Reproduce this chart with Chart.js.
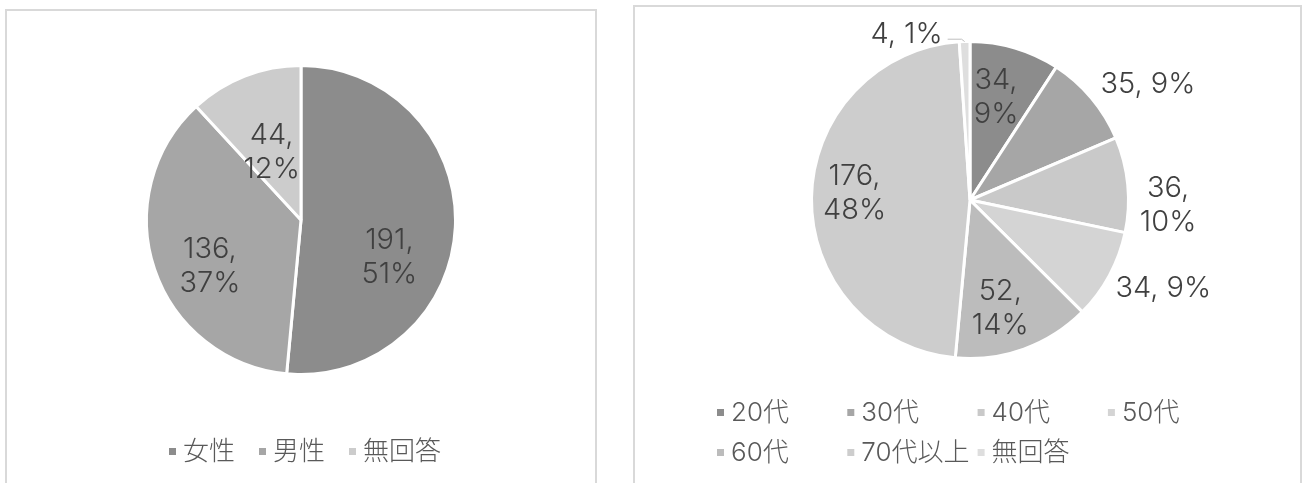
<!DOCTYPE html>
<html>
<head>
<meta charset="utf-8">
<script src="https://cdn.jsdelivr.net/npm/chart.js@4"></script>
<style>
  html, body { margin: 0; padding: 0; background: #fff; overflow: hidden; }
  body { width: 1306px; height: 483px; position: relative; }
  .panel { position: absolute; border: 2px solid #d9d9d9; box-sizing: border-box; height: 560px; }
  #panelL { left: 5px; top: 9px; width: 592px; }
  #panelR { left: 633px; top: 5px; width: 669px; }
  .holder { position: absolute; top: 0; }
  #holdL { left: 0; }
  #holdR { left: 620px; }
</style>
</head>
<body>
<div class="panel" id="panelL"></div>
<div class="panel" id="panelR"></div>
<div class="holder" id="holdL"><canvas id="genderChart" width="620" height="483"></canvas></div>
<div class="holder" id="holdR"><canvas id="ageChart" width="686" height="483"></canvas></div>
<script>
// gender pie
const genderLabels = ['女性', '男性', '無回答'];
const genderValues = [191, 136, 44];
const genderPct = [51, 37, 12];
const genderColors = ['#8c8c8c', '#a6a6a6', '#cccccc'];

// age pie
const ageLabels = ['20代', '30代', '40代', '50代', '60代', '70代以上', '無回答'];
const ageValues = [34, 35, 36, 34, 52, 176, 4];
const agePct = [9, 9, 10, 9, 14, 48, 1];
const ageColors = ['#8c8c8c', '#a6a6a6', '#c9c9c9', '#d4d4d4', '#bcbcbc', '#cdcdcd', '#dedede'];

const LABEL_FONT = '300 29px Inter, "Noto Sans CJK JP", sans-serif';
const LEGEND_FONT = '300 26px Inter, "Noto Sans CJK JP", sans-serif';

// value, percent labels drawn on (or next to) each slice
const sliceLabels = {
    id: 'sliceLabels',
    afterDatasetsDraw(chart, args, opts) {
        const ctx = chart.ctx;
        const meta = chart.getDatasetMeta(0);
        const values = chart.data.datasets[0].data;
        ctx.save();
        ctx.font = LABEL_FONT;
        ctx.fillStyle = '#404040';
        ctx.textAlign = 'center';
        ctx.textBaseline = 'middle';
        meta.data.forEach((arc, i) => {
            const p = arc.getProps(['x', 'y', 'startAngle', 'endAngle', 'outerRadius'], true);
            const a = (p.startAngle + p.endAngle) / 2 + opts.nudge[i] * Math.PI / 180;
            const d = p.outerRadius * opts.dist[i];
            const x = p.x + Math.cos(a) * d;
            const y = p.y + Math.sin(a) * d;
            const lines = opts.wrap[i]
                ? [values[i] + ',', opts.pct[i] + '%']
                : [values[i] + ', ' + opts.pct[i] + '%'];
            const lh = 34;
            lines.forEach((t, k) => {
                ctx.fillText(t, x, y + (k - (lines.length - 1) / 2) * lh);
            });
            if (opts.leader && opts.leader[i]) {
                // small leader line back to the slice edge
                const mid = (p.startAngle + p.endAngle) / 2;
                const ex = p.x + Math.cos(mid) * p.outerRadius;
                const ey = p.y + Math.sin(mid) * p.outerRadius;
                const w = ctx.measureText(lines[0]).width;
                ctx.strokeStyle = '#bfbfbf';
                ctx.lineWidth = 1;
                ctx.beginPath();
                ctx.moveTo(x + w / 2 + 5, y + 5);
                ctx.lineTo(ex - 3, y + 5);
                ctx.lineTo(ex, ey);
                ctx.stroke();
            }
        });
        ctx.restore();
    }
};

// Excel style legend: small squares laid out in columns
const gridLegend = {
    id: 'gridLegend',
    afterDraw(chart, args, opts) {
        const ctx = chart.ctx;
        const labels = chart.data.labels;
        const colors = chart.data.datasets[0].backgroundColor;
        ctx.save();
        ctx.font = LEGEND_FONT;
        ctx.textBaseline = 'middle';
        ctx.textAlign = 'left';
        labels.forEach((lab, i) => {
            const col = i % opts.cols;
            const row = Math.floor(i / opts.cols);
            const x = opts.x + col * opts.colW;
            const y = opts.y + row * opts.rowH;
            ctx.fillStyle = colors[i];
            ctx.fillRect(x, y - 3, 7, 7);
            ctx.fillStyle = '#595959';
            ctx.fillText(lab, x + 14, y + 1);
        });
        ctx.restore();
    }
};

function makePie(id, labels, values, colors, pad, labelOpts, legendOpts) {
    return new Chart(document.getElementById(id), {
        type: 'pie',
        data: {
            labels: labels,
            datasets: [{
                data: values,
                backgroundColor: colors,
                borderColor: '#ffffff',
                borderWidth: 3,
                hoverOffset: 0,
                offset: 0
            }]
        },
        options: {
            responsive: false,
            animation: false,
            layout: { padding: pad },
            plugins: {
                legend: { display: false },
                tooltip: { enabled: false },
                sliceLabels: labelOpts,
                gridLegend: legendOpts
            }
        },
        plugins: [sliceLabels, gridLegend]
    });
}

makePie('genderChart', genderLabels, genderValues, genderColors,
    { left: 145, right: 163, top: 64, bottom: 107 },
    { pct: genderPct, dist: [0.62, 0.66, 0.48], nudge: [20, -8, -2], wrap: [true, true, true] },
    { x: 169, y: 451, cols: 3, colW: 90, rowH: 40 });

makePie('ageChart', ageLabels, ageValues, ageColors,
    { left: 190, right: 176, top: 40, bottom: 123 },
    {
        pct: agePct,
        dist: [0.67, 1.34, 1.25, 1.34, 0.71, 0.73, 1.12],
        nudge: [-2.3, 6.9, 7, -3.9, 4.3, 2.7, -19],
        wrap: [true, false, true, false, true, true, false],
        leader: [false, false, false, false, false, false, true]
    },
    { x: 97, y: 412, cols: 4, colW: 130.3, rowH: 40 });
</script>
</body>
</html>
